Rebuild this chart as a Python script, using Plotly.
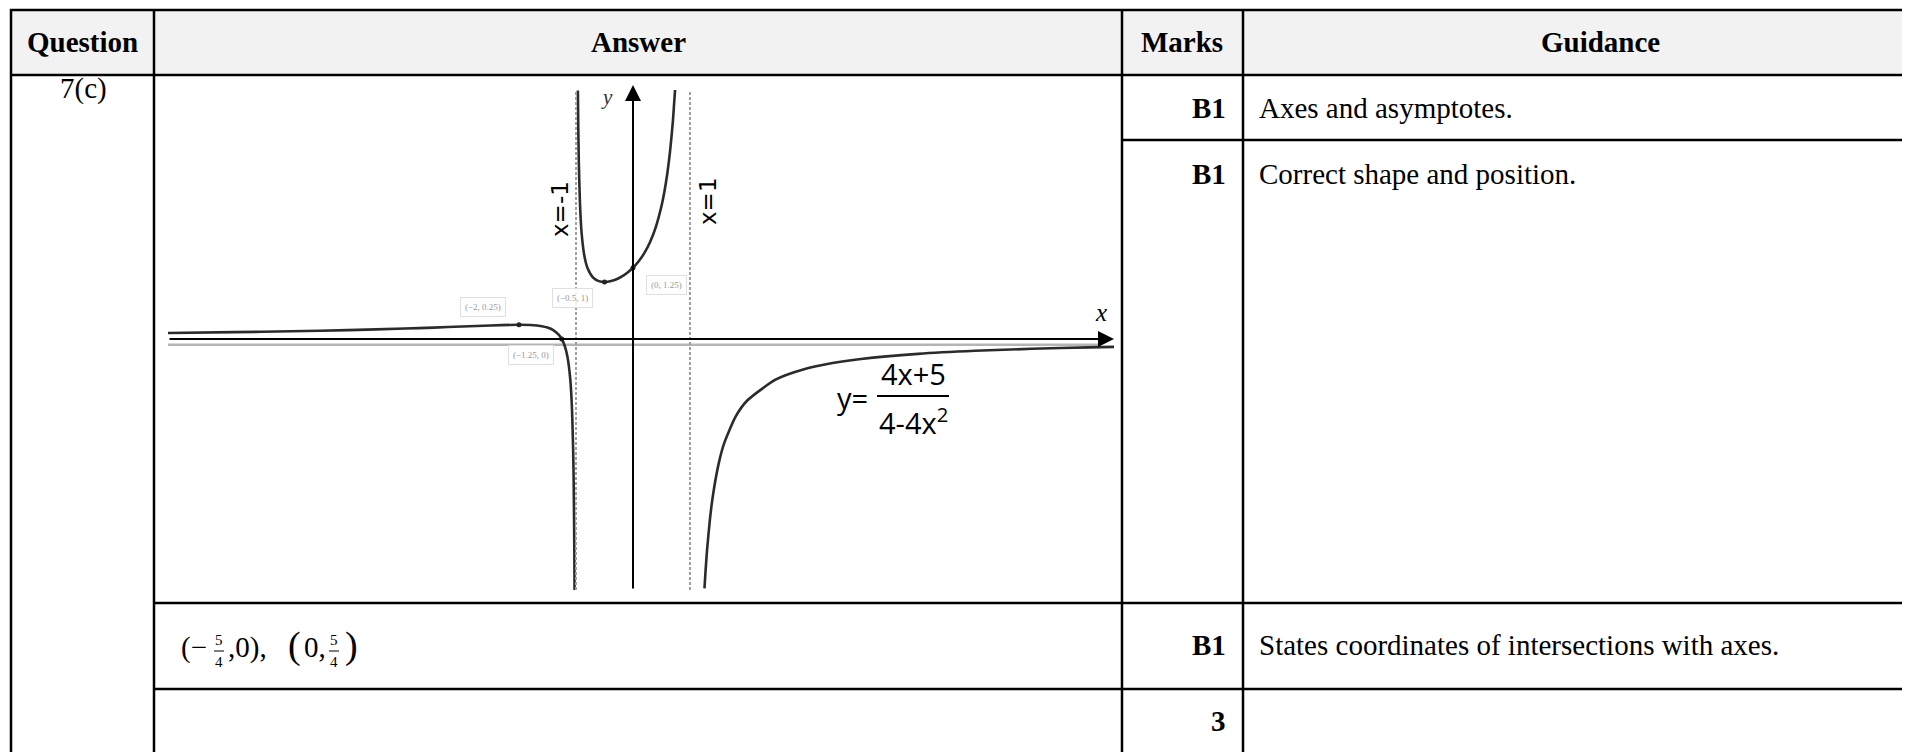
import plotly.graph_objects as go

W, H = 1910, 752
OFF = 8  # page body margin

# ---------------- data ----------------
headers = ["Question", "Answer", "Marks", "Guidance"]
question = "7(c)"
marks = ["B1", "B1", "B1", "3"]
guidance = ["Axes and asymptotes.", "Correct shape and position.",
            "States coordinates of intersections with axes.", ""]

# curve y = (4x+5)/(4-4x^2)
left_x = [-8.5, -7, -6, -5, -4, -3.5, -3, -2.5, -2, -1.8, -1.6, -1.5, -1.4, -1.3,
          -1.25, -1.2, -1.15, -1.1, -1.07, -1.05, -1.04, -1.03, -1.025]
left_y = [0.1018, 0.1198, 0.1357, 0.1563, 0.1833, 0.2, 0.2188, 0.2381, 0.25, 0.2455,
          0.2244, 0.2, 0.1563, 0.0725, 0.0, -0.1136, -0.3101, -0.7143, -1.2422,
          -1.9512, -2.5735, -3.6125, -4.444]
mid_x = [-0.967, -0.96, -0.95, -0.93, -0.9, -0.85, -0.8, -0.7, -0.6, -0.5, -0.4, -0.3,
         -0.2, -0.1, 0, 0.1, 0.2, 0.3, 0.4, 0.5, 0.55, 0.6, 0.65, 0.7, 0.74]
mid_y = [4.36, 3.699, 3.0769, 2.3686, 1.8421, 1.4414, 1.25, 1.0784, 1.0156, 1.0, 1.0119,
         1.044, 1.0938, 1.1616, 1.25, 1.3636, 1.5104, 1.7033, 1.9643, 2.3333, 2.5806,
         2.8906, 3.29, 3.8235, 4.3988]
right_x = [1.254, 1.27, 1.3, 1.35, 1.4, 1.5, 1.6, 1.8, 2, 2.5, 3, 3.5, 4, 5, 6, 7, 8, 8.75]
right_y = [-4.3737, -4.1116, -3.6957, -3.1611, -2.7604, -2.2, -1.8269, -1.3616, -1.0833,
           -0.7143, -0.5313, -0.4222, -0.35, -0.2604, -0.2071, -0.1719, -0.1468, -0.1323]

key_x = [-2, -0.5, 0, -1.25]
key_y = [0.25, 1, 1.25, 0]
key_labels = ["(−2, 0.25)", "(−0.5, 1)", "(0, 1.25)", "(−1.25, 0)"]
asymptotes = [-1, 1]
asym_labels = ["x=-1", "x=1"]

# ---------------- helpers ----------------
def px(x):
    return (x - OFF) / W

def py(y):
    return 1 - (y - OFF) / H

# graph placement (screen pixels)
G_LEFT, G_RIGHT, G_TOP, G_BOT = 168, 1114, 90, 590
X0, Y0, UX, UY = 633, 339, 57, 57

fig = go.Figure()

for xs, ys in [(left_x, left_y), (mid_x, mid_y), (right_x, right_y)]:
    fig.add_trace(go.Scatter(x=xs, y=ys, mode="lines",
                             line=dict(color="#2b2b2b", width=2.6, shape="spline", smoothing=0.6),
                             hoverinfo="skip"))
fig.add_trace(go.Scatter(x=key_x, y=key_y, mode="markers",
                         marker=dict(color="#222", size=5), hoverinfo="skip"))

shapes = []
ann = []

# header background
shapes.append(dict(type="rect", xref="paper", yref="paper", x0=px(11), x1=px(1918),
                   y0=py(75), y1=py(10), fillcolor="#f2f2f2", line=dict(width=0), layer="below"))

def hline(y, x0, x1):
    shapes.append(dict(type="line", xref="paper", yref="paper", x0=px(x0), x1=px(x1),
                       y0=py(y), y1=py(y), line=dict(color="black", width=2.5)))

def vline(x, y0, y1):
    shapes.append(dict(type="line", xref="paper", yref="paper", x0=px(x), x1=px(x),
                       y0=py(y0), y1=py(y1), line=dict(color="black", width=2.5)))

hline(10, 10, 1918)
hline(75, 10, 1918)
hline(140, 1122, 1918)
hline(603, 154, 1918)
hline(689, 154, 1918)
vline(11, 9, 760)
vline(154, 9, 760)
vline(1122, 9, 760)
vline(1243, 9, 760)

SERIF = "Liberation Serif, Times New Roman, serif"

def text(x, y, s, size=29, bold=False, anchor="center", color="black", family=SERIF, **kw):
    if bold:
        s = "<b>" + s + "</b>"
    ann.append(dict(xref="paper", yref="paper", x=px(x), y=py(y), text=s, showarrow=False,
                    xanchor=anchor, yanchor="middle", font=dict(family=family, size=size, color=color), **kw))

# headers
text(82, 42, headers[0], bold=True)
text(638, 42, headers[1], bold=True)
text(1182, 42, headers[2], bold=True)
text(1600, 42, headers[3], bold=True)
text(83, 88, question)

rows_y = [108, 174, 645, 721]
for m, g, yy in zip(marks, guidance, rows_y):
    text(1228, yy, m, bold=True, anchor="right")
    if g:
        text(1257, yy, g, anchor="left")

# coordinates of intersections
text(179, 647, "(−", anchor="left")
text(219, 640, "5", size=15)
text(219, 662, "4", size=15)
shapes.append(dict(type="line", xref="paper", yref="paper", x0=px(214), x1=px(224),
                   y0=py(651), y1=py(651), line=dict(color="black", width=1)))
text(226, 647, ",0),", anchor="left")
text(286, 645, "(", size=38, anchor="left")
text(302, 647, "0,", anchor="left")
text(334, 640, "5", size=15)
text(334, 662, "4", size=15)
shapes.append(dict(type="line", xref="paper", yref="paper", x0=px(329), x1=px(339),
                   y0=py(651), y1=py(651), line=dict(color="black", width=1)))
text(343, 645, ")", size=38, anchor="left")

# asymptotes
for a in asymptotes:
    shapes.append(dict(type="line", xref="x", yref="y domain", x0=a, x1=a, y0=0, y1=1,
                       line=dict(color="#a0a0a0", width=2, dash="3px,2px")))
# faint secondary axis line
shapes.append(dict(type="line", xref="x domain", yref="y", x0=0, x1=0.985, y0=-0.1, y1=-0.1,
                   line=dict(color="#b5b5b5", width=2.5), layer="below"))

# axis arrows
ann.append(dict(xref="paper", yref="paper", x=px(G_RIGHT), y=py(Y0), ax=-(G_RIGHT - G_LEFT), ay=0,
                showarrow=True, arrowhead=2, arrowsize=1.6, arrowwidth=2, arrowcolor="black", text=""))
ann.append(dict(xref="paper", yref="paper", x=px(X0), y=py(85), ax=0, ay=(G_BOT - 85),
                showarrow=True, arrowhead=2, arrowsize=1.6, arrowwidth=2, arrowcolor="black", text=""))
text(1101, 312, "<i>x</i>", size=25)
text(607, 97, "<i>y</i>", size=21, color="#333")

# asymptote labels
ann.append(dict(xref="x", yref="paper", x=-1, xshift=-16, y=py(179), text=asym_labels[0], showarrow=False,
                textangle=-90, font=dict(family="DejaVu Sans", size=23, color="black")))
ann.append(dict(xref="x", yref="paper", x=1, xshift=18, y=py(175), text=asym_labels[1], showarrow=False,
                textangle=-90, font=dict(family="DejaVu Sans", size=23, color="black")))

# point labels
offs = [(-36, 18), (-32, -16), (33, -17), (-31, -16)]
for (kx, ky, lab, (dx, dy)) in zip(key_x, key_y, key_labels, offs):
    ann.append(dict(xref="x", yref="y", x=kx, y=ky, xshift=dx, yshift=dy, text=lab, showarrow=False,
                    font=dict(family=SERIF, size=9, color="#9a9a9a"), bordercolor="#e0e0e0",
                    borderwidth=1, borderpad=4, bgcolor="rgba(255,255,255,0.85)"))

# formula
SANS = "Open Sans, sans-serif"
text(852, 398, "y=", size=29, family=SANS)
text(913, 373, "4x+5", size=29, family=SANS)
text(913, 421, "4-4x<sup>2</sup>", size=29, family=SANS)
shapes.append(dict(type="line", xref="paper", yref="paper", x0=px(877), x1=px(949),
                   y0=py(396), y1=py(396), line=dict(color="black", width=2)))

fig.update_layout(
    width=W, height=H, margin=dict(l=0, r=0, t=0, b=0),
    paper_bgcolor="white", plot_bgcolor="rgba(0,0,0,0)", showlegend=False,
    xaxis=dict(range=[(G_LEFT - X0) / UX, (G_RIGHT - X0) / UX], domain=[px(G_LEFT), px(G_RIGHT)],
               visible=False, fixedrange=True),
    yaxis=dict(range=[-(G_BOT - Y0) / UY, (Y0 - G_TOP) / UY], domain=[py(G_BOT), py(G_TOP)],
               visible=False, fixedrange=True),
    shapes=shapes, annotations=ann,
)

fig.write_html("out.html")
